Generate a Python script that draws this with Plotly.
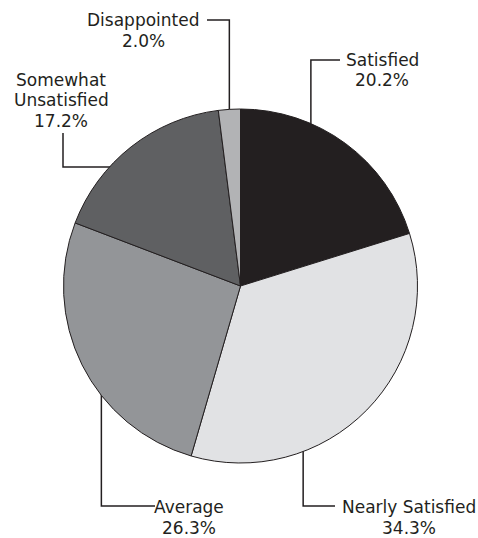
import math
import plotly.graph_objects as go

# ---- data ----
labels = ["Satisfied", "Nearly Satisfied", "Average", "Somewhat Unsatisfied", "Disappointed"]
values = [20.2, 34.3, 26.3, 17.2, 2.0]
colors = ["#231f20", "#e1e2e4", "#939598", "#5f6062", "#b2b3b5"]
# how each label is broken into lines
label_lines = [["Satisfied"], ["Nearly Satisfied"], ["Average"], ["Somewhat", "Unsatisfied"], ["Disappointed"]]

# ---- layout constants ----
W, H = 478, 538
CX, CY, R = 240.5, 286.0, 177.0
INK = "#231f20"
FONT = "DejaVu Sans"
FS = 17
LINE_H = 20.5

# callout placement: dot within slice (angle fraction, radius fraction), leader route, label position
callouts = [
    dict(af=0.386, rf=0.845, route="v", turn=60, end_x=340, tx=382, ty=58.5,
         dot_line="white", dot_lw=2, inner="white"),
    dict(af=0.671, rf=0.856, route="v", turn=506, end_x=335, tx=409, ty=506,
         dot_line=INK, dot_lw=0, inner=INK),
    dict(af=0.50, rf=0.878, route="v", turn=506, end_x=155, tx=189, ty=506,
         dot_line=INK, dot_lw=0, inner=INK),
    dict(af=0.454, rf=0.891, route="h", turn=133, end_x=63, tx=61, ty=78.5,
         dot_line=INK, dot_lw=0, inner=INK),
    dict(af=0.45, rf=0.912, route="v", turn=20, end_x=207, tx=143, ty=19.2,
         dot_line="white", dot_lw=1.5, inner=INK),
]

fig = go.Figure()

x0 = (CX - R) / W
x1 = (CX + R) / W
y0 = 1 - (CY + R) / H
y1 = 1 - (CY - R) / H

fig.add_trace(go.Pie(
    labels=labels, values=values, sort=False, direction="clockwise", rotation=0,
    marker=dict(colors=colors, line=dict(color=INK, width=1)),
    textinfo="none", hoverinfo="label+percent", showlegend=False,
    domain=dict(x=[x0, x1], y=[y0, y1]),
))

total = sum(values)
cum = 0.0
annotations = []
for lab, val, lines, c in zip(labels, values, label_lines, callouts):
    a_start = cum / total * 360
    a_end = (cum + val) / total * 360
    cum += val
    ang = math.radians(a_start + c["af"] * (a_end - a_start))
    r = c["rf"] * R
    dx = CX + r * math.sin(ang)
    dy = CY - r * math.cos(ang)

    if c["route"] == "v":
        px = [dx, dx, c["end_x"]]
        py = [dy, c["turn"], c["turn"]]
    else:
        px = [dx, c["end_x"], c["end_x"]]
        py = [dy, dy, c["turn"]]

    fig.add_trace(go.Scatter(x=px, y=py, mode="lines", line=dict(color=INK, width=1.5),
                             hoverinfo="skip", showlegend=False))
    if c["inner"] != INK and c["route"] == "v":
        half = math.sqrt(R * R - (dx - CX) ** 2)
        edge = CY - half if dy < CY else CY + half
        fig.add_trace(go.Scatter(x=[dx, dx], y=[dy, edge], mode="lines",
                                 line=dict(color=c["inner"], width=1.5),
                                 hoverinfo="skip", showlegend=False))
    fig.add_trace(go.Scatter(x=[dx], y=[dy], mode="markers",
                             marker=dict(size=13, color=INK,
                                         line=dict(color=c["dot_line"], width=c["dot_lw"])),
                             hoverinfo="skip", showlegend=False))

    text_lines = lines + [f"{val:.1f}%"]
    for i, t in enumerate(text_lines):
        annotations.append(dict(x=c["tx"], y=c["ty"] + i * LINE_H + 1, xref="x", yref="y",
                                text=t, showarrow=False, xanchor="center", yanchor="middle",
                                font=dict(family=FONT, size=FS, color=INK)))

fig.update_layout(
    width=W, height=H, margin=dict(l=0, r=0, t=0, b=0),
    paper_bgcolor="white", plot_bgcolor="rgba(0,0,0,0)",
    xaxis=dict(range=[0, W], visible=False, fixedrange=True),
    yaxis=dict(range=[H, 0], visible=False, fixedrange=True),
    annotations=annotations,
)

fig.write_html("out.html",
               config={"displayModeBar": False},
               post_script="document.body.style.margin='0';document.body.style.overflow='hidden';")
